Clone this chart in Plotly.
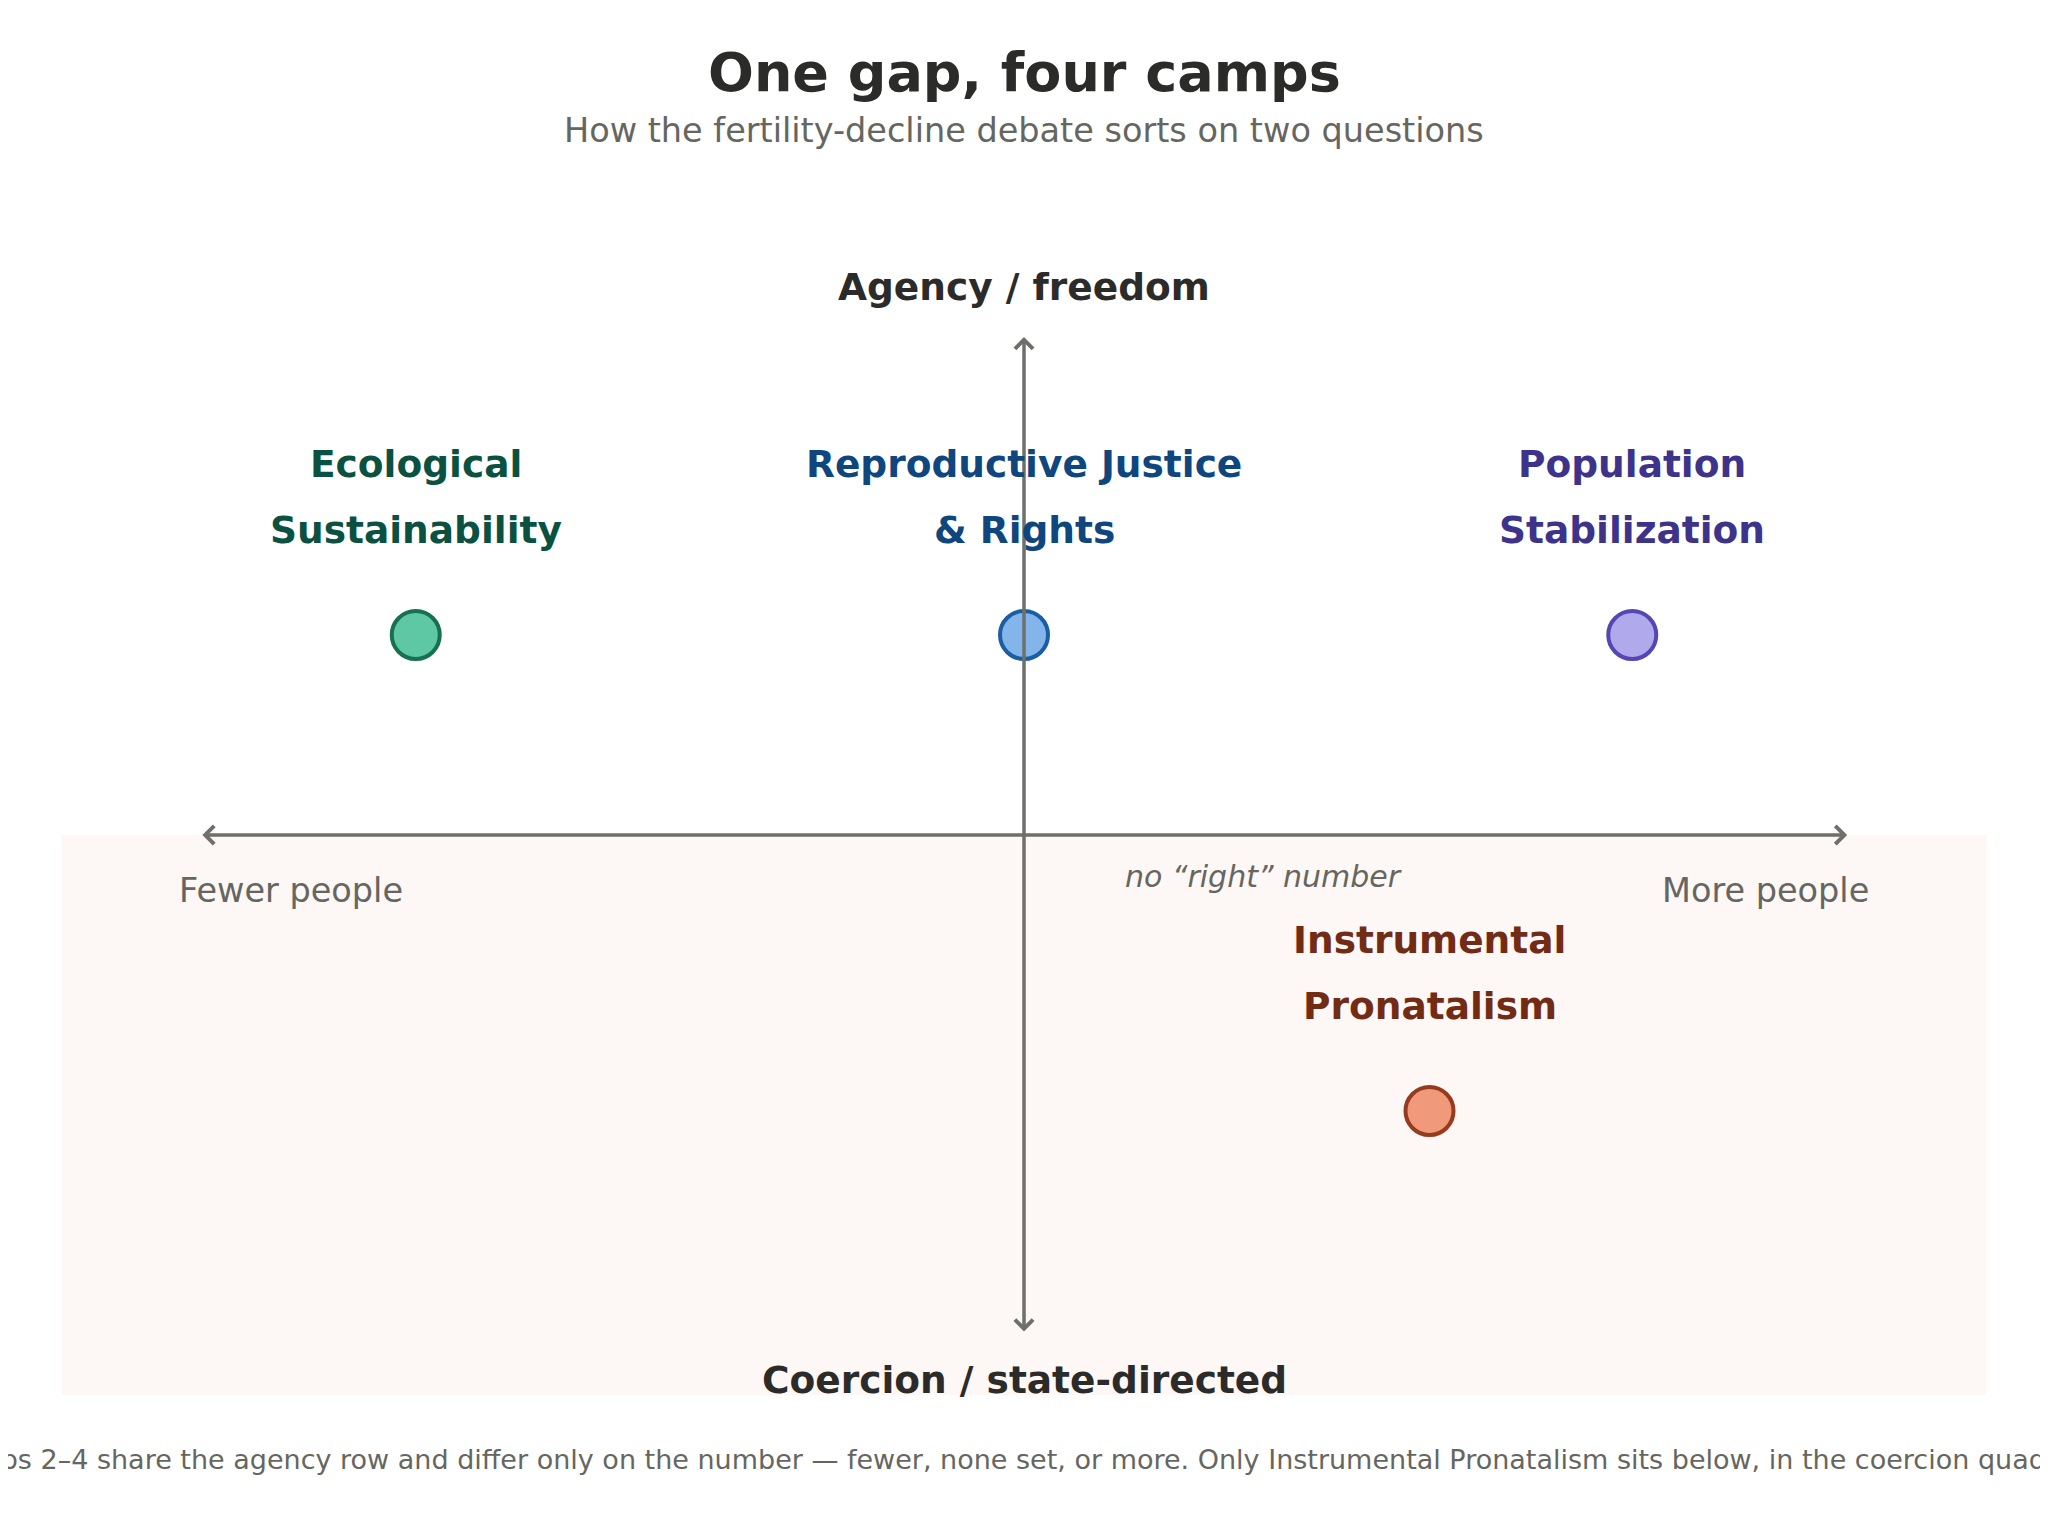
import plotly.graph_objects as go

# camps and their positions on the two questions
camps = ["Ecological Sustainability", "Reproductive Justice & Rights",
         "Population Stabilization", "Instrumental Pronatalism"]
label_top = ["Ecological", "Reproductive Justice", "Population", "Instrumental"]
label_bottom = ["Sustainability", "& Rights", "Stabilization", "Pronatalism"]
number_axis = [-0.75, 0.0, 0.75, 0.5]      # fewer people (-) ... more people (+)
agency_axis = [0.5, 0.5, 0.5, -0.69]       # coercion (-) ... agency (+)

fill_colors = ["#5ec8a5", "#84b5ea", "#b0a9ec", "#f09a7b"]
edge_colors = ["#17704f", "#1b5ea6", "#5447b5", "#973b1f"]
text_colors = ["#0b5142", "#0e467d", "#3d338a", "#722b14"]

x_end_labels = ["Fewer people", "More people"]
y_end_labels = ["Agency / freedom", "Coercion / state-directed"]
mid_note = "no \u201cright\u201d number"

title = "One gap, four camps"
subtitle = "How the fertility-decline debate sorts on two questions"
footnote = ("Camps 2\u20134 share the agency row and differ only on the number \u2014 "
            "fewer, none set, or more. Only Instrumental Pronatalism sits below, "
            "in the coercion quadrant.")

FONT = "DejaVu Sans"
AXIS_COL = "#6f6f6b"
# the page body adds an 8px margin, so the figure is a little smaller
W, H = 2040, 1518
PAD = 8
XS, YS = 811, 400          # pixels per data unit
CX, CY = 1024, 835         # page pixel of the origin
X_ARM, Y_ARM = 1.015, 1.245

def paper_y(page_px):
    return 1 - (page_px - PAD) / H

fig = go.Figure()

# coercion half shading
fig.add_shape(type="rect", x0=-1.187, x1=1.187, y0=-1.4, y1=0,
              fillcolor="#fdf7f5", line_width=0, layer="below")

fig.add_trace(go.Scatter(
    x=number_axis, y=agency_axis, mode="markers", text=camps,
    hoverinfo="text",
    marker=dict(size=48, color=fill_colors,
                line=dict(color=edge_colors, width=4)),
    showlegend=False))

# axis arrows
arrow = dict(showarrow=True, text="", axref="x", ayref="y", xref="x", yref="y",
             arrowhead=4, startarrowhead=4, arrowside="end+start",
             arrowsize=1, startarrowsize=1, arrowwidth=3.5,
             arrowcolor=AXIS_COL, standoff=0, startstandoff=0)
fig.add_annotation(x=X_ARM, y=0, ax=-X_ARM, ay=0, **arrow)
fig.add_annotation(x=0, y=Y_ARM, ax=0, ay=-Y_ARM, **arrow)

# axis end labels
fig.add_annotation(x=0, y=1.37, text="<b>" + y_end_labels[0] + "</b>",
                   showarrow=False, yanchor="middle",
                   font=dict(family=FONT, size=37.5, color="#2b2b29"))
fig.add_annotation(x=0, y=-1.3625, text="<b>" + y_end_labels[1] + "</b>",
                   showarrow=False, yanchor="middle",
                   font=dict(family=FONT, size=37.5, color="#2b2b29"))
fig.add_annotation(x=-X_ARM, y=0, text=x_end_labels[0], showarrow=False,
                   xanchor="left", xshift=-24, yshift=-55,
                   font=dict(family=FONT, size=33.5, color="#666660"))
fig.add_annotation(x=X_ARM, y=0, text=x_end_labels[1], showarrow=False,
                   xanchor="right", xshift=24, yshift=-55,
                   font=dict(family=FONT, size=33.5, color="#666660"))
fig.add_annotation(x=0.295, y=0, text="<i>" + mid_note + "</i>", showarrow=False,
                   yshift=-41,
                   font=dict(family=FONT, size=30, color="#666660"))

# camp labels, two lines above each point
for i in range(len(camps)):
    for line, shift in ((label_top[i], 171), (label_bottom[i], 105)):
        fig.add_annotation(x=number_axis[i], y=agency_axis[i],
                           text="<b>" + line + "</b>", showarrow=False,
                           yshift=shift,
                           font=dict(family=FONT, size=37.5, color=text_colors[i]))

# title block and footnote
fig.add_annotation(xref="paper", yref="paper", x=(CX - PAD) / W, y=paper_y(72),
                   text="<b>" + title + "</b>", showarrow=False, yanchor="middle",
                   font=dict(family=FONT, size=54, color="#2b2b29"))
fig.add_annotation(xref="paper", yref="paper", x=(CX - PAD) / W, y=paper_y(131),
                   text=subtitle, showarrow=False, yanchor="middle",
                   font=dict(family=FONT, size=33.5, color="#666660"))
fig.add_annotation(xref="paper", yref="paper", x=(CX - PAD) / W, y=paper_y(1459),
                   text=footnote, showarrow=False, yanchor="middle",
                   font=dict(family=FONT, size=27, color="#666660"))

fig.update_xaxes(range=[-(CX - PAD) / XS, (W - CX + PAD) / XS],
                 visible=False, showgrid=False, zeroline=False, fixedrange=True)
fig.update_yaxes(range=[-(H - CY + PAD) / YS, (CY - PAD) / YS],
                 visible=False, showgrid=False, zeroline=False, fixedrange=True)
fig.update_layout(width=W, height=H, margin=dict(l=0, r=0, t=0, b=0),
                  plot_bgcolor="white", paper_bgcolor="white",
                  font=dict(family=FONT))

fig.write_html("out.html")
